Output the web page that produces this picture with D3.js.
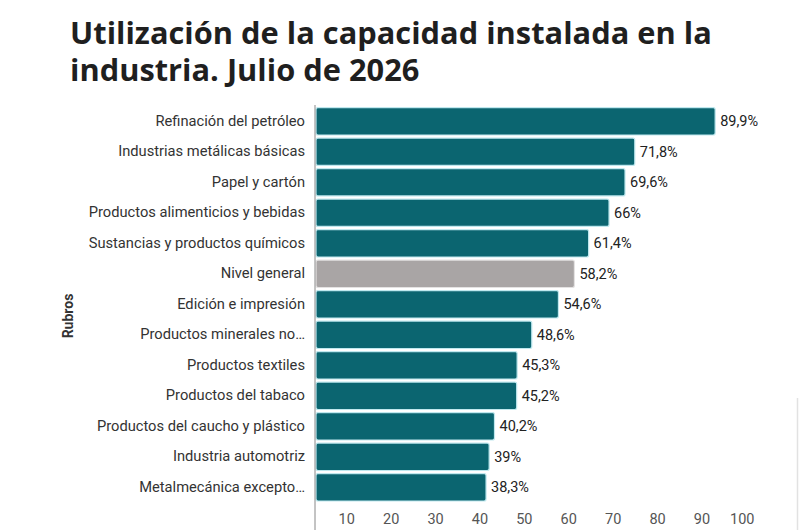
<!DOCTYPE html>
<html>
<head>
<meta charset="utf-8">
<script src="https://cdn.jsdelivr.net/npm/d3@7"></script>
<style>
  html, body { margin: 0; padding: 0; background: #fff; }
  #chart { width: 800px; height: 530px; }
</style>
</head>
<body>
<div id="chart"></div>
<script>
// Rubros and values
const rubros = [
  "Refinación del petróleo",
  "Industrias metálicas básicas",
  "Papel y cartón",
  "Productos alimenticios y bebidas",
  "Sustancias y productos químicos",
  "Nivel general",
  "Edición e impresión",
  "Productos minerales no…",
  "Productos textiles",
  "Productos del tabaco",
  "Productos del caucho y plástico",
  "Industria automotriz",
  "Metalmecánica excepto…"
];
const valores = [89.9, 71.8, 69.6, 66, 61.4, 58.2, 54.6, 48.6, 45.3, 45.2, 40.2, 39, 38.3];
const xTicks = [10, 20, 30, 40, 50, 60, 70, 80, 90, 100];
const destacado = "Nivel general";

const width = 800, height = 530;
const m = { top: 106, left: 316, right: 40, bottom: 16 };
const font = "Roboto, sans-serif";

const svg = d3.select("#chart").append("svg")
  .attr("width", width)
  .attr("height", height)
  .attr("viewBox", [0, 0, width, height]);

// Title: stretch the first line to the original's width (x 70 -> 712)
const title = svg.append("text")
  .attr("font-family", "'Open Sans', sans-serif")
  .attr("font-weight", 700)
  .attr("font-size", 29.5)
  .attr("fill", "#1f1f1f");
const t1 = title.append("tspan").attr("x", 0).attr("y", 44)
  .text("Utilización de la capacidad instalada en la");
title.append("tspan").attr("x", 0).attr("y", 81)
  .text("industria. Julio de 2026");
const sx = 642 / t1.node().getComputedTextLength();
title.attr("transform", `translate(70,0) scale(${sx},1)`);

const data = rubros.map((r, i) => ({ rubro: r, valor: valores[i] }));

const x = d3.scaleLinear()
  .domain([0, 100])
  .range([m.left, 760]);

const y = d3.scaleBand()
  .domain(rubros)
  .range([m.top, m.top + rubros.length * 30.5])
  .paddingInner(0.1)
  .paddingOuter(0.05);

const fmt = v => d3.format(".1~f")(v).replace(".", ",") + "%";

// Bars
svg.append("g")
  .selectAll("rect")
  .data(data)
  .join("rect")
  .attr("x", x(0))
  .attr("y", d => y(d.rubro))
  .attr("width", d => x(d.valor) - x(0))
  .attr("height", y.bandwidth())
  .attr("rx", 2)
  .attr("fill", d => d.rubro === destacado ? "#a9a5a5" : "#0b6570")
  .attr("stroke", d => d.rubro === destacado ? "#e4e2e2" : "#bfe8ee")
  .attr("stroke-width", 1.2);

// Value labels
svg.append("g")
  .selectAll("text")
  .data(data)
  .join("text")
  .attr("x", d => x(d.valor) + 5)
  .attr("y", d => y(d.rubro) + y.bandwidth() / 2)
  .attr("dy", "0.35em")
  .attr("font-family", font)
  .attr("font-size", 14.5)
  .attr("fill", "#222")
  .text(d => fmt(d.valor));

// Y axis (categories)
const yAxis = svg.append("g")
  .attr("transform", `translate(${m.left - 1},0)`)
  .call(d3.axisLeft(y).tickSize(0).tickPadding(10));
yAxis.select(".domain").remove();
yAxis.selectAll("text")
  .attr("font-family", font)
  .attr("font-size", 14.7)
  .attr("fill", "#333");

svg.append("line")
  .attr("x1", m.left - 1).attr("x2", m.left - 1)
  .attr("y1", 105).attr("y2", height)
  .attr("stroke", "#888")
  .attr("stroke-width", 1);

// X axis (labels only, sitting left of their tick)
const xAxis = svg.append("g")
  .attr("transform", `translate(0,${height - m.bottom})`)
  .call(d3.axisBottom(x).tickValues(xTicks).tickSize(0).tickPadding(0));
xAxis.select(".domain").remove();
xAxis.selectAll("text")
  .attr("text-anchor", "end")
  .attr("dx", -6)
  .attr("font-family", font)
  .attr("font-size", 14.5)
  .attr("fill", "#555");

// Axis title
svg.append("text")
  .attr("transform", "translate(73,316) rotate(-90)")
  .attr("text-anchor", "middle")
  .attr("font-family", font)
  .attr("font-weight", 700)
  .attr("font-size", 14)
  .attr("fill", "#333")
  .text("Rubros");

// faint edge line at the right
svg.append("line")
  .attr("x1", 797.5).attr("x2", 797.5)
  .attr("y1", 398).attr("y2", height)
  .attr("stroke", "#e2e2e2")
  .attr("stroke-width", 1.5);
</script>
</body>
</html>
